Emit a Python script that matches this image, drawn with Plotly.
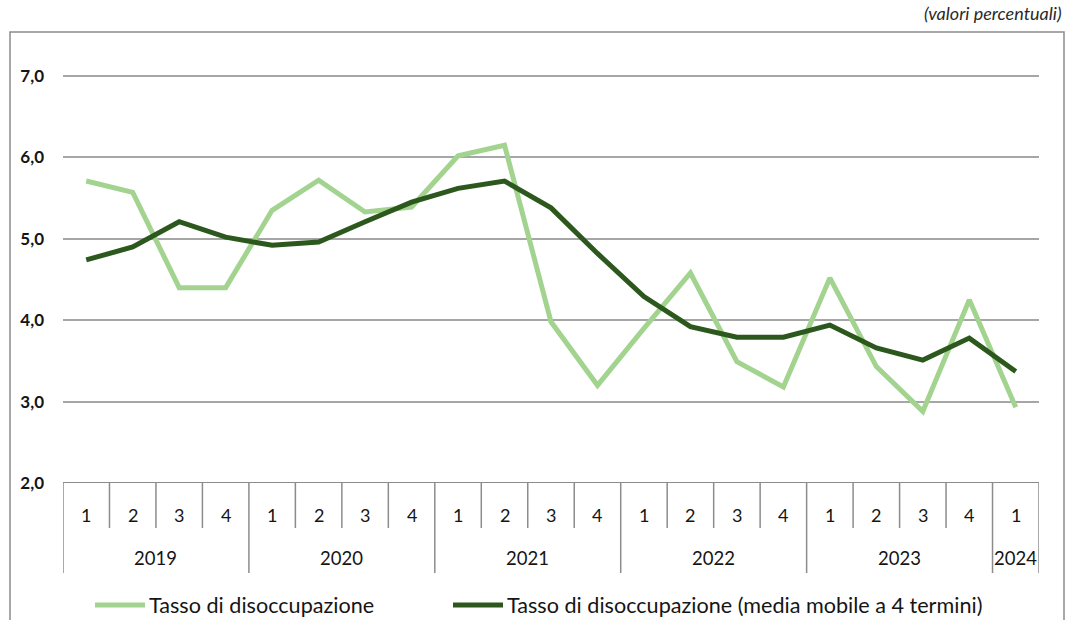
import plotly.graph_objects as go

quarters = ["1", "2", "3", "4"] * 5 + ["1"]
years = ["2019", "2020", "2021", "2022", "2023", "2024"]
year_quarters = [4, 4, 4, 4, 4, 1]
tasso = [5.71, 5.57, 4.40, 4.40, 5.35, 5.72, 5.33, 5.39, 6.02, 6.15, 3.98,
         3.20, 3.90, 4.58, 3.49, 3.18, 4.52, 3.43, 2.88, 4.25, 2.93]
media_mobile = [4.74, 4.90, 5.21, 5.02, 4.92, 4.96, 5.21, 5.45, 5.62, 5.71, 5.38,
                4.82, 4.29, 3.92, 3.79, 3.79, 3.94, 3.66, 3.51, 3.78, 3.37]
series_names = ["Tasso di disoccupazione",
                "Tasso di disoccupazione (media mobile a 4 termini)"]

n = len(quarters)
xs = [i + 0.5 for i in range(n)]

LIGHT = "#A2D38F"
DARK = "#2C581D"
GRID = "#A6A6A6"
TXT = "#151515"
FONT = "Lato"
colors = [LIGHT, DARK]

fig = go.Figure()
for vals, name, col in zip([tasso, media_mobile], series_names, colors):
    fig.add_trace(go.Scatter(x=xs, y=vals, mode="lines", name=name,
                             line=dict(color=col, width=5), showlegend=False))

L, R, T, B = 63, 27, 40, 137
W, H = 1066, 620
ph = H - T - B
pw = W - L - R


def py(pix):
    return (H - B - pix) / ph


def px(pix):
    return (pix - L) / pw


shapes = []
shapes.append(dict(type="line", xref="x", yref="y", x0=0, x1=n, y0=2, y1=2,
                   line=dict(color="#8C8C8C", width=2)))
year_bounds = [0]
for q in year_quarters:
    year_bounds.append(year_bounds[-1] + q)
for i in range(n + 1):
    bottom = py(573) if i in year_bounds else py(528)
    shapes.append(dict(type="line", xref="x", yref="paper", x0=i, x1=i, y0=0, y1=bottom,
                       line=dict(color="#8C8C8C", width=1.5)))
shapes.append(dict(type="rect", xref="paper", yref="paper", x0=px(10), x1=px(1064),
                   y0=py(660), y1=py(32), line=dict(color="#8C8C8C", width=1.5),
                   fillcolor="rgba(0,0,0,0)", layer="below"))

annotations = []
for i, q in enumerate(quarters):
    annotations.append(dict(x=xs[i], y=py(515), xref="x", yref="paper", text=q,
                            showarrow=False, font=dict(size=18, color=TXT, family=FONT),
                            xanchor="center", yanchor="middle"))
for j, yr in enumerate(years):
    cx = (year_bounds[j] + year_bounds[j + 1]) / 2
    annotations.append(dict(x=cx, y=py(558), xref="x", yref="paper", text=yr,
                            showarrow=False, font=dict(size=18.5, color=TXT, family=FONT),
                            xanchor="center", yanchor="middle"))
annotations.append(dict(x=px(1064), y=py(13), xref="paper", yref="paper",
                        text="<i>(valori percentuali)</i>", showarrow=False,
                        font=dict(size=18, color="#2A2A2A", family=FONT),
                        xanchor="right", yanchor="middle"))

# legend (manual, matching the reference's long line samples)
legend_x = [95, 453]
for lx, name, col in zip(legend_x, series_names, colors):
    shapes.append(dict(type="line", xref="paper", yref="paper", x0=px(lx), x1=px(lx + 50),
                       y0=py(605), y1=py(605), line=dict(color=col, width=5)))
    annotations.append(dict(x=px(lx + 52), y=py(605), xref="paper", yref="paper",
                            text=name, showarrow=False, xanchor="left", yanchor="middle",
                            font=dict(size=21.6, color=TXT, family=FONT)))

fig.update_layout(
    width=W, height=H,
    margin=dict(l=L, r=R, t=T, b=B, autoexpand=False),
    paper_bgcolor="white", plot_bgcolor="white",
    separators=",.",
    showlegend=False,
    xaxis=dict(range=[0, n], showgrid=False, showticklabels=False, zeroline=False,
               showline=False, ticks="", fixedrange=True),
    yaxis=dict(range=[2, 2 + ph / 81.4], tickvals=[2, 3, 4, 5, 6, 7], tickformat=".1f",
               showgrid=True, gridcolor=GRID, gridwidth=1.5, zeroline=False,
               showline=False, ticks="", ticklabelstandoff=18,
               tickfont=dict(size=17, color=TXT, family=FONT, weight="bold")),
    shapes=shapes, annotations=annotations,
    font=dict(family=FONT),
)

fig.write_html("out.html", config={"displayModeBar": False},
               post_script="document.body.style.margin='0';")
